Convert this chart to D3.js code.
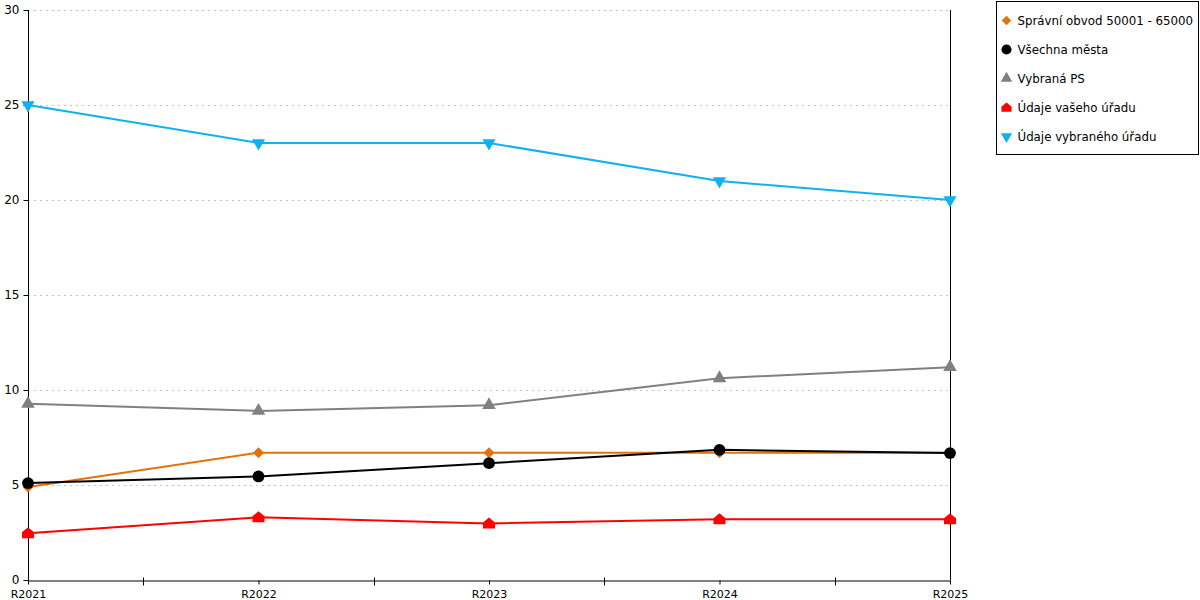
<!DOCTYPE html>
<html lang="cs">
<head>
<meta charset="UTF-8">
<title>Chart</title>
<script src="https://d3js.org/d3.v7.min.js"></script>
<style>
  body { margin: 0; background: #fff; }
  text { font-family: "DejaVu Sans", Verdana, sans-serif; }
</style>
</head>
<body>
<div id="chart"></div>
<script>

// data
const years = ["R2021", "R2022", "R2023", "R2024", "R2025"];
const seriesNames = ["Správní obvod 50001 - 65000", "Všechna města", "Vybraná PS", "Údaje vašeho úřadu", "Údaje vybraného úřadu"];
const obvod = [4.9, 6.7, 6.7, 6.7, 6.7];
const mesta = [5.1, 5.45, 6.15, 6.85, 6.68];
const vybranaPS = [9.27, 8.9, 9.2, 10.62, 11.2];
const vasUrad = [2.46, 3.3, 2.98, 3.2, 3.2];
const vybranyUrad = [25, 23, 23, 21, 20];
const yTicks = [0, 5, 10, 15, 20, 25, 30];

const colors = ["#e3720e", "#000000", "#808080", "#ff0000", "#0fb1ee"];
const shapes = ["diamond", "circle", "triangle", "house", "down"];
const values = [obvod, mesta, vybranaPS, vasUrad, vybranyUrad];

const width = 1200, height = 600;
const margin = { top: 10, right: 250, bottom: 20, left: 28 };

const svg = d3.select("#chart").append("svg")
  .attr("width", width)
  .attr("height", height);

const x = d3.scalePoint()
  .domain(years)
  .range([margin.left, width - margin.right]);

const y = d3.scaleLinear()
  .domain([0, 30])
  .range([height - margin.bottom, margin.top]);

// grid lines
svg.append("g")
  .selectAll("line")
  .data(yTicks.filter(d => d > 0))
  .join("line")
    .attr("x1", margin.left)
    .attr("x2", width - margin.right)
    .attr("y1", d => y(d) + 0.5)
    .attr("y2", d => y(d) + 0.5)
    .attr("stroke", "#c4c4c4")
    .attr("stroke-dasharray", "2,4");

// y axis
const yAxis = svg.append("g")
  .attr("transform", "translate(" + (margin.left + 0.5) + ",0)")
  .call(d3.axisLeft(y).tickValues(yTicks).tickSize(5).tickPadding(4));
yAxis.select(".domain").attr("stroke", "#000").attr("d", "M0," + y(30) + "V" + y(0));
yAxis.selectAll("text").attr("font-size", 12).attr("fill", "#000")
  .attr("font-family", "DejaVu Sans, sans-serif");

// right vertical line
svg.append("line")
  .attr("x1", width - margin.right + 0.5)
  .attr("x2", width - margin.right + 0.5)
  .attr("y1", y(30))
  .attr("y2", y(0))
  .attr("stroke", "#000");

// x axis
const xAxis = svg.append("g")
  .attr("transform", "translate(0," + (y(0) + 0.5) + ")")
  .call(d3.axisBottom(x).tickSize(4).tickSizeOuter(0).tickPadding(6));
xAxis.select(".domain").attr("stroke", "#000");
xAxis.selectAll("text").attr("font-size", 11).attr("fill", "#000")
  .attr("font-family", "DejaVu Sans, sans-serif");

// minor ticks between categories
const mids = years.slice(1).map((d, i) => (x(years[i]) + x(d)) / 2);
xAxis.append("g")
  .selectAll("line")
  .data(mids)
  .join("line")
    .attr("x1", d => Math.round(d) + 0.5)
    .attr("x2", d => Math.round(d) + 0.5)
    .attr("y1", -3)
    .attr("y2", 5)
    .attr("stroke", "#000");

// markers
function marker(g, shape, color) {
  if (shape === "house") {
    g.append("path")
      .attr("d", "M-6,5 L-6,-1 L0,-6 L6,-1 L6,5 Z")
      .attr("fill", color);
  } else if (shape === "down") {
    g.append("path")
      .attr("d", d3.symbol().type(d3.symbolTriangle).size(75)())
      .attr("transform", "rotate(180)")
      .attr("fill", color);
  } else if (shape === "diamond") {
    g.append("path")
      .attr("d", d3.symbol().type(d3.symbolSquare).size(62)())
      .attr("transform", "rotate(45)")
      .attr("fill", color);
  } else {
    const t = { circle: d3.symbolCircle, triangle: d3.symbolTriangle }[shape];
    const s = { circle: 110, triangle: 80 }[shape];
    g.append("path")
      .attr("d", d3.symbol().type(t).size(s)())
      .attr("fill", color);
  }
}

const line = d3.line()
  .x((d, i) => x(years[i]))
  .y(d => y(d));

values.forEach((vals, k) => {
  const g = svg.append("g");
  g.append("path")
    .datum(vals)
    .attr("d", line)
    .attr("fill", "none")
    .attr("stroke", colors[k])
    .attr("stroke-width", 2);
  g.selectAll("g")
    .data(vals)
    .join("g")
      .attr("transform", (d, i) => "translate(" + x(years[i]) + "," + y(d) + ")")
      .each(function() { marker(d3.select(this), shapes[k], colors[k]); });
});

// legend
const legend = svg.append("g").attr("transform", "translate(996.5,1.5)");
legend.append("rect")
  .attr("width", 202)
  .attr("height", 153)
  .attr("fill", "#fff")
  .attr("stroke", "#000");

const items = legend.selectAll(".item")
  .data(seriesNames)
  .join("g")
    .attr("class", "item")
    .attr("transform", (d, i) => "translate(10," + (19 + i * 29) + ")");

items.each(function(d, i) {
  const g = d3.select(this).append("g").attr("transform", "scale(0.85)");
  marker(g, shapes[i], colors[i]);
});

items.append("text")
  .attr("x", 11)
  .attr("y", 4)
  .attr("font-size", 11.8)
  .attr("fill", "#000")
  .text(d => d);

</script>
</body>
</html>
